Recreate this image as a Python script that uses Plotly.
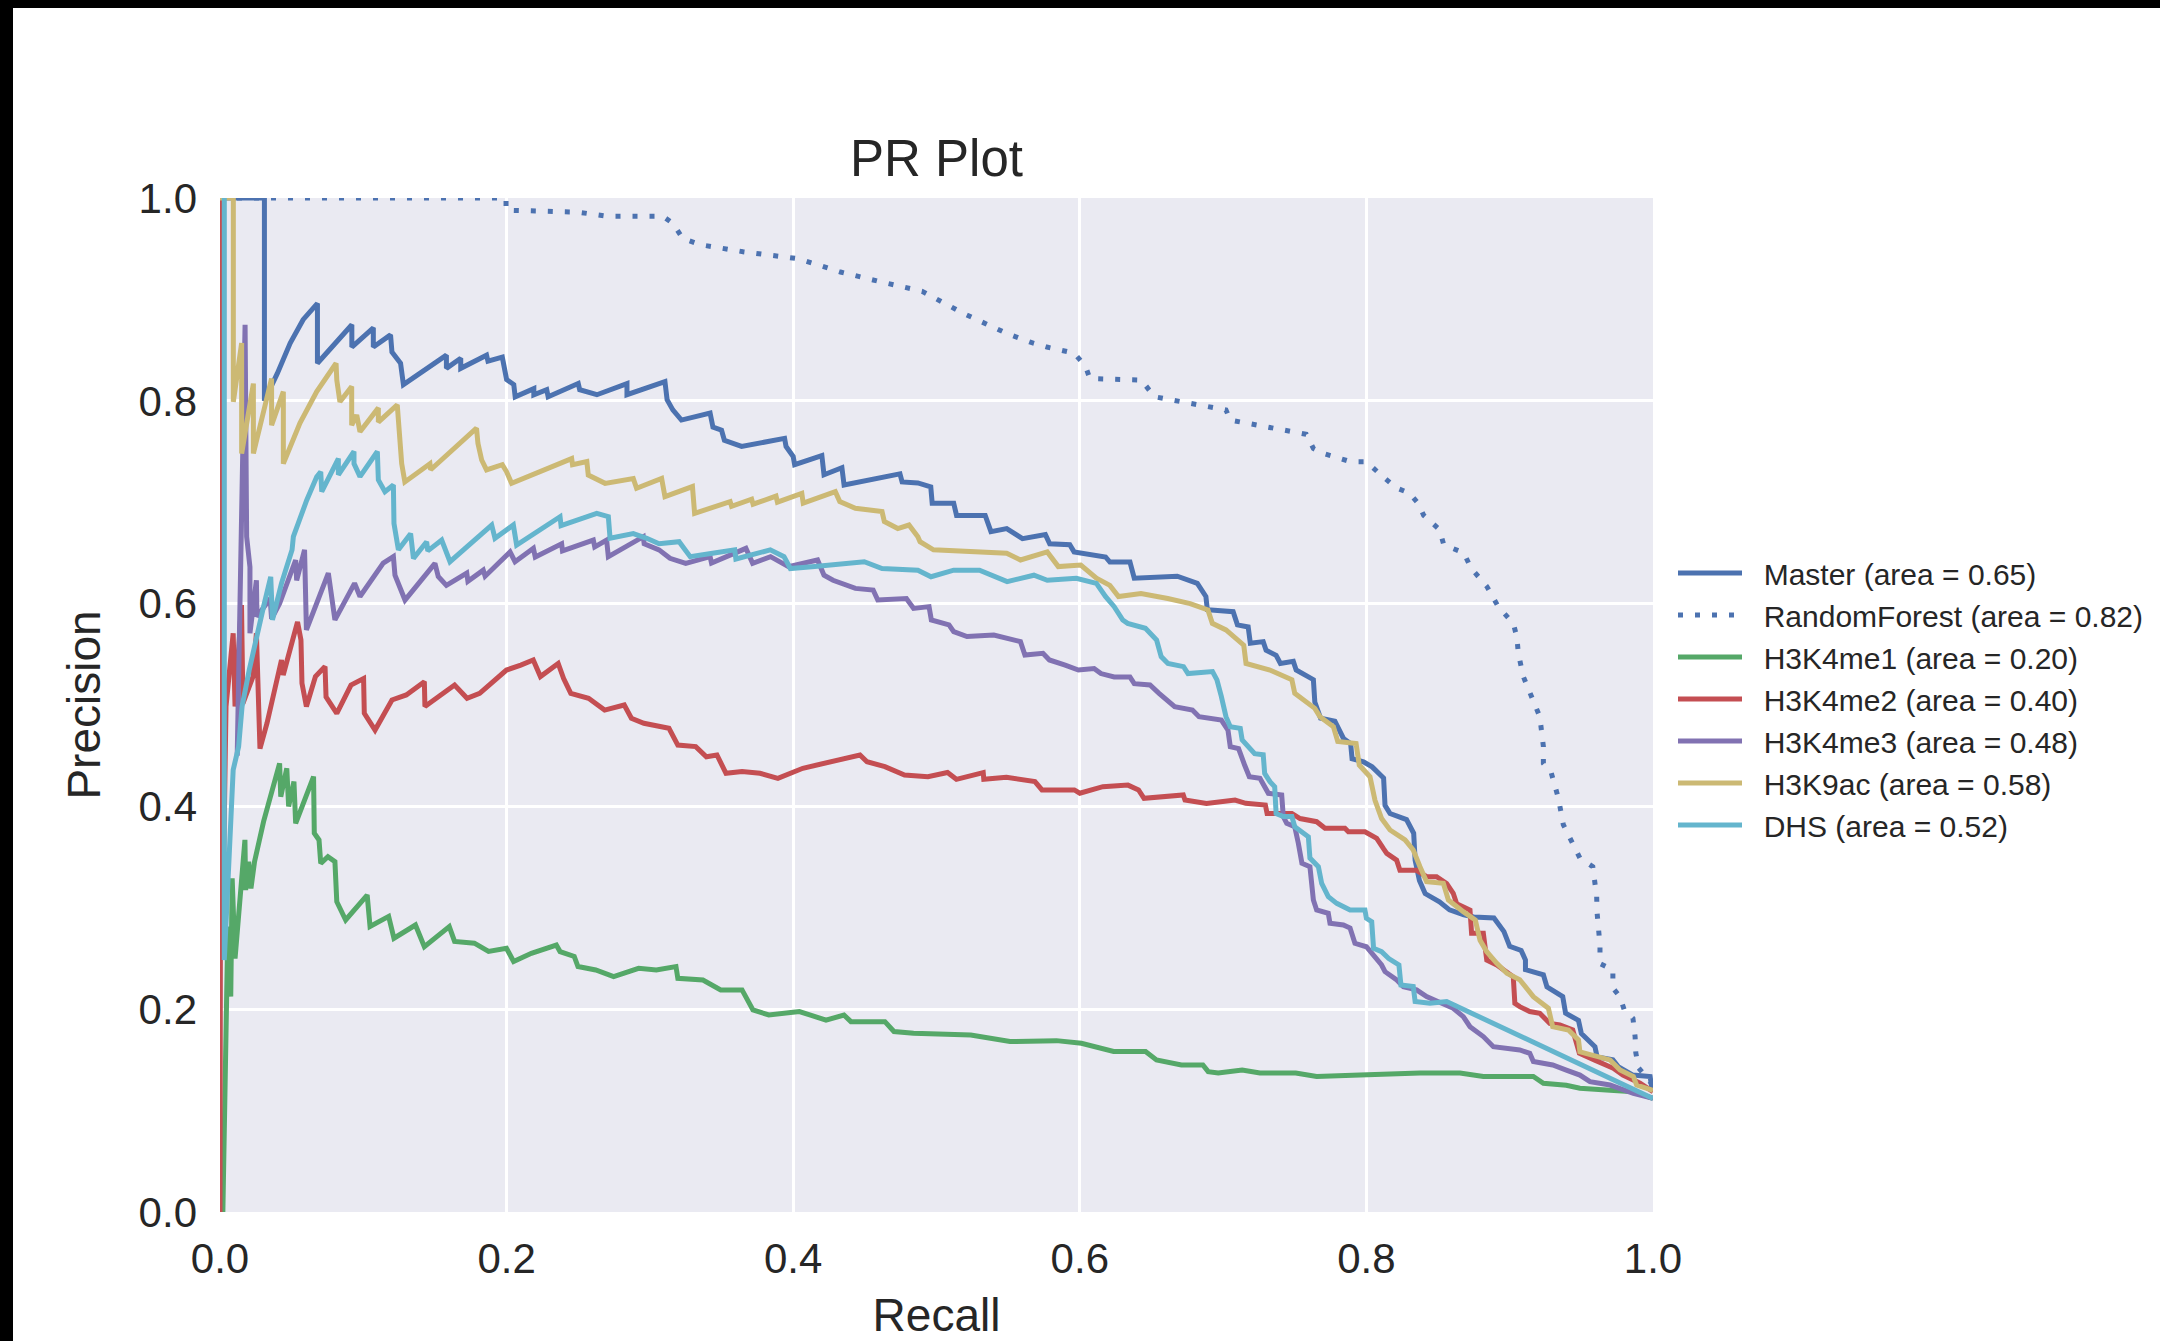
import plotly.graph_objects as go

# ---------------- data ----------------
series_names = ["Master", "RandomForest", "H3K4me1", "H3K4me2", "H3K4me3", "H3K9ac", "DHS"]
areas = [0.65, 0.82, 0.20, 0.40, 0.48, 0.58, 0.52]
colors = ["#4C72B0", "#4C72B0", "#55A868", "#C44E52", "#8172B2", "#CCB974", "#64B5CD"]

master_recall = [0.000, 0.031, 0.031, 0.040, 0.049, 0.058, 0.068, 0.068, 0.092, 0.092, 0.107, 0.107, 0.119, 0.120, 0.126, 0.128, 0.158, 0.158, 0.168, 0.168, 0.186, 0.187, 0.197, 0.200, 0.205, 0.206, 0.219, 0.219, 0.228, 0.229, 0.250, 0.251, 0.263, 0.284, 0.284, 0.3105, 0.312, 0.316, 0.322, 0.342, 0.344, 0.350, 0.352, 0.364, 0.394, 0.395, 0.400, 0.401, 0.420, 0.4215, 0.434, 0.4355, 0.4745, 0.476, 0.487, 0.496, 0.497, 0.512, 0.514, 0.534, 0.538, 0.549, 0.560, 0.576, 0.579, 0.593, 0.596, 0.618, 0.621, 0.635, 0.638, 0.668, 0.682, 0.688, 0.689, 0.707, 0.710, 0.7175, 0.719, 0.728, 0.730, 0.737, 0.740, 0.749, 0.751, 0.763, 0.764, 0.768, 0.778, 0.784, 0.789, 0.790, 0.798, 0.804, 0.812, 0.813, 0.8165, 0.828, 0.833, 0.834, 0.837, 0.841, 0.851, 0.858, 0.868, 0.875, 0.889, 0.896, 0.900, 0.908, 0.911, 0.911, 0.9235, 0.926, 0.937, 0.939, 0.948, 0.950, 0.9595, 0.961, 0.972, 0.976, 0.986, 0.998, 0.999, 1.000]
master_precision = [1.000, 1.000, 0.800, 0.827, 0.857, 0.880, 0.896, 0.837, 0.875, 0.853, 0.872, 0.853, 0.865, 0.848, 0.837, 0.816, 0.845, 0.832, 0.842, 0.832, 0.845, 0.839, 0.843, 0.821, 0.816, 0.804, 0.812, 0.806, 0.811, 0.804, 0.817, 0.811, 0.806, 0.817, 0.806, 0.819, 0.801, 0.791, 0.781, 0.788, 0.774, 0.771, 0.761, 0.755, 0.763, 0.755, 0.745, 0.737, 0.746, 0.727, 0.734, 0.717, 0.728, 0.720, 0.719, 0.715, 0.699, 0.699, 0.687, 0.687, 0.671, 0.674, 0.664, 0.668, 0.659, 0.658, 0.651, 0.646, 0.641, 0.641, 0.625, 0.627, 0.620, 0.607, 0.594, 0.592, 0.579, 0.577, 0.561, 0.5625, 0.554, 0.549, 0.541, 0.543, 0.5345, 0.525, 0.503, 0.487, 0.484, 0.467, 0.462, 0.447, 0.444, 0.439, 0.428, 0.401, 0.393, 0.387, 0.3735, 0.347, 0.327, 0.314, 0.306, 0.298, 0.293, 0.291, 0.290, 0.2765, 0.262, 0.258, 0.2485, 0.239, 0.234, 0.222, 0.2125, 0.196, 0.189, 0.176, 0.163, 0.153, 0.150, 0.143, 0.135, 0.1335, 0.124, 0.122]

rf_recall = [0.000, 0.1996, 0.1996, 0.250, 0.270, 0.309, 0.316, 0.323, 0.335, 0.365, 0.404, 0.433, 0.462, 0.490, 0.519, 0.549, 0.565, 0.577, 0.596, 0.604, 0.607, 0.643, 0.652, 0.702, 0.705, 0.758, 0.763, 0.770, 0.789, 0.800, 0.810, 0.821, 0.830, 0.836, 0.840, 0.851, 0.854, 0.868, 0.873, 0.884, 0.892, 0.9025, 0.905, 0.906, 0.9095, 0.9165, 0.921, 0.9235, 0.9235, 0.929, 0.934, 0.9374, 0.942, 0.949, 0.958, 0.9607, 0.961, 0.962, 0.963, 0.963, 0.972, 0.972, 0.977, 0.980, 0.986, 0.9875, 0.988, 0.990, 1.000]
rf_precision = [1.000, 1.000, 0.988, 0.986, 0.982, 0.982, 0.975, 0.960, 0.954, 0.947, 0.940, 0.927, 0.917, 0.908, 0.886, 0.8665, 0.858, 0.853, 0.847, 0.834, 0.822, 0.8205, 0.804, 0.791, 0.781, 0.767, 0.753, 0.748, 0.740, 0.740, 0.727, 0.714, 0.709, 0.699, 0.687, 0.673, 0.658, 0.650, 0.635, 0.617, 0.597, 0.5805, 0.567, 0.551, 0.528, 0.503, 0.4885, 0.459, 0.4425, 0.433, 0.408, 0.382, 0.3685, 0.349, 0.3405, 0.311, 0.295, 0.278, 0.263, 0.245, 0.239, 0.221, 0.212, 0.199, 0.191, 0.173, 0.157, 0.142, 0.125]

me1_recall = [0.000, 0.002, 0.0055, 0.0075, 0.0085, 0.0105, 0.0174, 0.0179, 0.020, 0.0216, 0.0241, 0.0304, 0.0416, 0.0424, 0.0466, 0.0479, 0.0516, 0.0528, 0.0653, 0.0658, 0.0691, 0.0703, 0.0753, 0.0802, 0.0815, 0.0877, 0.1027, 0.1047, 0.1177, 0.1214, 0.1364, 0.1426, 0.160, 0.1637, 0.1775, 0.1874, 0.1999, 0.2049, 0.2173, 0.2347, 0.2373, 0.2472, 0.2498, 0.2622, 0.2747, 0.2921, 0.3045, 0.3182, 0.3195, 0.337, 0.3494, 0.3643, 0.3719, 0.383, 0.4043, 0.4229, 0.4354, 0.4403, 0.464, 0.4703, 0.484, 0.5239, 0.5513, 0.5837, 0.6011, 0.6236, 0.6459, 0.6535, 0.6709, 0.6859, 0.6896, 0.6966, 0.7133, 0.7257, 0.7507, 0.7653, 0.7955, 0.8374, 0.8653, 0.8816, 0.9165, 0.9235, 0.9395, 0.949, 0.970, 0.9863, 1.000]
me1_precision = [0.000, 0.000, 0.2815, 0.2125, 0.329, 0.250, 0.367, 0.3175, 0.3455, 0.319, 0.3455, 0.385, 0.4425, 0.4095, 0.4376, 0.400, 0.4245, 0.3833, 0.4294, 0.3735, 0.3669, 0.3439, 0.3504, 0.3455, 0.306, 0.288, 0.3126, 0.2815, 0.2915, 0.270, 0.283, 0.2617, 0.2815, 0.2668, 0.2651, 0.2569, 0.2601, 0.247, 0.2551, 0.2633, 0.2568, 0.252, 0.2421, 0.2387, 0.2322, 0.2403, 0.2387, 0.242, 0.2305, 0.2288, 0.219, 0.219, 0.1992, 0.1943, 0.1977, 0.1893, 0.1943, 0.1877, 0.1877, 0.178, 0.1764, 0.1745, 0.1681, 0.169, 0.1664, 0.1583, 0.1583, 0.150, 0.145, 0.145, 0.1384, 0.137, 0.140, 0.137, 0.137, 0.1336, 0.135, 0.137, 0.137, 0.1336, 0.1336, 0.127, 0.125, 0.122, 0.120, 0.1187, 0.112]

me2_recall = [0.000, 0.0005, 0.001, 0.0015, 0.0042, 0.0092, 0.0105, 0.015, 0.016, 0.023, 0.0254, 0.0279, 0.0328, 0.0429, 0.0441, 0.0541, 0.0565, 0.0572, 0.0603, 0.0666, 0.0733, 0.074, 0.0815, 0.0914, 0.1002, 0.1007, 0.1082, 0.120, 0.130, 0.1426, 0.143, 0.1637, 0.1724, 0.1812, 0.1999, 0.2099, 0.2186, 0.2236, 0.236, 0.2398, 0.2448, 0.2572, 0.2684, 0.2821, 0.2871, 0.2958, 0.3133, 0.3195, 0.332, 0.3394, 0.3468, 0.3531, 0.3643, 0.3768, 0.3893, 0.4067, 0.4267, 0.4466, 0.4515, 0.464, 0.4777, 0.494, 0.5077, 0.5139, 0.5326, 0.533, 0.5488, 0.5687, 0.5736, 0.5962, 0.600, 0.6161, 0.6336, 0.641, 0.6448, 0.6635, 0.6722, 0.6734, 0.6884, 0.7083, 0.7158, 0.7295, 0.7307, 0.748, 0.7537, 0.7653, 0.7711, 0.785, 0.7874, 0.799, 0.8072, 0.8118, 0.8142, 0.8211, 0.8234, 0.835, 0.842, 0.849, 0.856, 0.8606, 0.863, 0.8723, 0.8734, 0.8816, 0.884, 0.891, 0.897, 0.9025, 0.9036, 0.907, 0.914, 0.921, 0.928, 0.935, 0.944, 0.9486, 0.959, 0.9723, 0.979, 0.991, 1.000]
me2_precision = [0.000, 1.000, 1.000, 0.250, 0.4985, 0.5707, 0.4985, 0.5986, 0.5017, 0.528, 0.5707, 0.457, 0.482, 0.5444, 0.5296, 0.582, 0.564, 0.5214, 0.4985, 0.528, 0.538, 0.508, 0.4918, 0.5197, 0.526, 0.4918, 0.4753, 0.505, 0.5099, 0.523, 0.4985, 0.5197, 0.5066, 0.5115, 0.5345, 0.5394, 0.5444, 0.528, 0.541, 0.526, 0.5115, 0.5066, 0.495, 0.500, 0.4869, 0.482, 0.477, 0.4605, 0.459, 0.449, 0.4507, 0.4326, 0.4343, 0.4326, 0.4277, 0.4376, 0.444, 0.4507, 0.444, 0.4392, 0.431, 0.4293, 0.4334, 0.4267, 0.4334, 0.4267, 0.4287, 0.4245, 0.4162, 0.4162, 0.413, 0.4195, 0.421, 0.4162, 0.408, 0.4095, 0.4113, 0.4063, 0.403, 0.4063, 0.403, 0.4014, 0.393, 0.393, 0.388, 0.3849, 0.3784, 0.3784, 0.375, 0.375, 0.3685, 0.3586, 0.3537, 0.347, 0.337, 0.337, 0.3307, 0.3307, 0.324, 0.3143, 0.304, 0.2978, 0.2748, 0.2748, 0.2485, 0.2436, 0.237, 0.232, 0.2058, 0.2025, 0.1977, 0.196, 0.186, 0.1844, 0.1795, 0.1565, 0.150, 0.1417, 0.135, 0.127, 0.1187]

me3_recall = [0.012, 0.0175, 0.0186, 0.0209, 0.0209, 0.0254, 0.0258, 0.035, 0.036, 0.0416, 0.0528, 0.0535, 0.059, 0.0603, 0.0756, 0.0802, 0.0939, 0.0977, 0.1139, 0.121, 0.1221, 0.1291, 0.150, 0.1523, 0.158, 0.1722, 0.173, 0.1837, 0.185, 0.2024, 0.2059, 0.2187, 0.220, 0.2384, 0.239, 0.2605, 0.2615, 0.2698, 0.271, 0.2954, 0.296, 0.3064, 0.314, 0.325, 0.342, 0.343, 0.367, 0.3717, 0.3842, 0.3967, 0.417, 0.4215, 0.4278, 0.4434, 0.4558, 0.459, 0.479, 0.484, 0.4948, 0.4964, 0.5087, 0.512, 0.5213, 0.540, 0.5586, 0.5617, 0.5743, 0.5788, 0.5898, 0.599, 0.610, 0.6147, 0.624, 0.635, 0.638, 0.649, 0.6553, 0.663, 0.6662, 0.6786, 0.6832, 0.6988, 0.7034, 0.705, 0.7108, 0.715, 0.7183, 0.7257, 0.7316, 0.7409, 0.742, 0.7444, 0.750, 0.7525, 0.755, 0.7606, 0.763, 0.7653, 0.7734, 0.7746, 0.7839, 0.7886, 0.792, 0.800, 0.8106, 0.813, 0.8212, 0.8258, 0.835, 0.842, 0.8537, 0.8606, 0.8676, 0.8723, 0.8816, 0.8886, 0.907, 0.914, 0.9165, 0.930, 0.9395, 0.949, 0.956, 0.970, 0.9863, 1.000]
me3_precision = [0.450, 0.875, 0.666, 0.636, 0.5707, 0.623, 0.587, 0.605, 0.585, 0.600, 0.643, 0.623, 0.653, 0.574, 0.630, 0.584, 0.620, 0.607, 0.640, 0.6463, 0.628, 0.6035, 0.6397, 0.6267, 0.618, 0.630, 0.622, 0.633, 0.627, 0.651, 0.6413, 0.6545, 0.646, 0.659, 0.652, 0.6627, 0.656, 0.6627, 0.6463, 0.666, 0.659, 0.653, 0.6447, 0.6397, 0.6463, 0.640, 0.6545, 0.6397, 0.6463, 0.6365, 0.643, 0.628, 0.623, 0.615, 0.6134, 0.6036, 0.605, 0.5953, 0.597, 0.5838, 0.579, 0.5723, 0.5675, 0.569, 0.5625, 0.5493, 0.551, 0.5444, 0.5394, 0.5345, 0.536, 0.531, 0.5276, 0.5276, 0.521, 0.5197, 0.5115, 0.5016, 0.4983, 0.495, 0.4885, 0.4852, 0.4753, 0.4589, 0.457, 0.4408, 0.4293, 0.4277, 0.4129, 0.4112, 0.390, 0.3833, 0.380, 0.3636, 0.3439, 0.3405, 0.3077, 0.2978, 0.2946, 0.2847, 0.283, 0.280, 0.265, 0.2616, 0.2436, 0.237, 0.2288, 0.2222, 0.219, 0.2124, 0.2058, 0.2009, 0.1927, 0.1828, 0.173, 0.163, 0.1598, 0.1565, 0.1484, 0.145, 0.140, 0.135, 0.1285, 0.1252, 0.117, 0.112]

k9ac_recall = [0.000, 0.0093, 0.0093, 0.0151, 0.0151, 0.0233, 0.0233, 0.036, 0.036, 0.0442, 0.0442, 0.0558, 0.0675, 0.081, 0.0815, 0.0837, 0.0919, 0.0919, 0.0954, 0.0977, 0.1105, 0.1105, 0.1237, 0.125, 0.1268, 0.129, 0.1465, 0.147, 0.179, 0.180, 0.1826, 0.186, 0.197, 0.200, 0.2035, 0.2454, 0.246, 0.256, 0.257, 0.2687, 0.2884, 0.2907, 0.3082, 0.3105, 0.3297, 0.3312, 0.356, 0.357, 0.371, 0.372, 0.388, 0.389, 0.406, 0.407, 0.4294, 0.4325, 0.4434, 0.462, 0.4636, 0.473, 0.4808, 0.487, 0.4885, 0.4979, 0.549, 0.5586, 0.5773, 0.585, 0.6007, 0.6116, 0.621, 0.627, 0.6427, 0.6614, 0.677, 0.6894, 0.6925, 0.702, 0.7144, 0.716, 0.7327, 0.748, 0.750, 0.764, 0.7676, 0.777, 0.780, 0.7928, 0.795, 0.8025, 0.806, 0.8106, 0.8165, 0.827, 0.8327, 0.8374, 0.842, 0.8537, 0.8572, 0.8676, 0.876, 0.8793, 0.884, 0.891, 0.898, 0.907, 0.9165, 0.927, 0.930, 0.941, 0.948, 0.949, 0.970, 0.977, 0.9863, 0.9886, 1.000]
k9ac_precision = [1.000, 1.000, 0.799, 0.857, 0.748, 0.817, 0.748, 0.822, 0.776, 0.809, 0.738, 0.778, 0.809, 0.837, 0.8205, 0.799, 0.814, 0.776, 0.786, 0.7695, 0.793, 0.779, 0.796, 0.771, 0.738, 0.720, 0.738, 0.732, 0.773, 0.758, 0.7416, 0.7318, 0.737, 0.730, 0.7186, 0.743, 0.737, 0.740, 0.7268, 0.7186, 0.7234, 0.7137, 0.7234, 0.7055, 0.7154, 0.689, 0.7006, 0.696, 0.703, 0.698, 0.706, 0.700, 0.7087, 0.699, 0.7104, 0.7006, 0.694, 0.6907, 0.681, 0.674, 0.6775, 0.666, 0.661, 0.653, 0.6496, 0.643, 0.651, 0.6365, 0.638, 0.625, 0.618, 0.607, 0.610, 0.605, 0.600, 0.5937, 0.5805, 0.574, 0.559, 0.541, 0.5345, 0.525, 0.5115, 0.4967, 0.4885, 0.4786, 0.464, 0.462, 0.4408, 0.4293, 0.406, 0.388, 0.3767, 0.3669, 0.357, 0.3405, 0.3258, 0.3242, 0.3077, 0.2962, 0.288, 0.268, 0.2567, 0.2453, 0.2354, 0.229, 0.2124, 0.2009, 0.1828, 0.1795, 0.1696, 0.158, 0.150, 0.140, 0.1335, 0.1252, 0.120]

dhs_recall = [0.002, 0.003, 0.003, 0.0067, 0.0092, 0.013, 0.0154, 0.0204, 0.0254, 0.0304, 0.0354, 0.0366, 0.0429, 0.0503, 0.0512, 0.0605, 0.0675, 0.0703, 0.071, 0.0826, 0.0826, 0.0935, 0.0935, 0.0977, 0.1098, 0.1105, 0.1151, 0.121, 0.1214, 0.1245, 0.133, 0.135, 0.1442, 0.145, 0.1547, 0.1605, 0.1896, 0.1919, 0.2047, 0.207, 0.2373, 0.238, 0.2629, 0.271, 0.2722, 0.2884, 0.2978, 0.3064, 0.3204, 0.3281, 0.3437, 0.3592, 0.360, 0.384, 0.3936, 0.398, 0.415, 0.4496, 0.462, 0.487, 0.4962, 0.512, 0.530, 0.5493, 0.568, 0.5773, 0.5976, 0.6116, 0.6179, 0.624, 0.630, 0.6334, 0.6458, 0.6536, 0.6568, 0.6615, 0.6724, 0.6755, 0.6926, 0.6957, 0.6988, 0.702, 0.705, 0.712, 0.7133, 0.722, 0.728, 0.729, 0.7327, 0.736, 0.737, 0.742, 0.748, 0.750, 0.7595, 0.7606, 0.7665, 0.7688, 0.7734, 0.7793, 0.7886, 0.799, 0.800, 0.8037, 0.805, 0.8106, 0.8156, 0.8227, 0.8241, 0.8327, 0.834, 0.8444, 0.856, 1.000]
dhs_precision = [1.000, 1.000, 0.2485, 0.3767, 0.436, 0.459, 0.4985, 0.5345, 0.5674, 0.597, 0.6265, 0.584, 0.620, 0.653, 0.666, 0.702, 0.725, 0.730, 0.7104, 0.743, 0.727, 0.750, 0.738, 0.7252, 0.750, 0.722, 0.7104, 0.717, 0.679, 0.653, 0.669, 0.6446, 0.661, 0.652, 0.6627, 0.6413, 0.6775, 0.6644, 0.6775, 0.6578, 0.6857, 0.677, 0.689, 0.6857, 0.6644, 0.669, 0.6644, 0.659, 0.661, 0.6463, 0.6496, 0.653, 0.644, 0.653, 0.6463, 0.6346, 0.6365, 0.6413, 0.6346, 0.633, 0.6265, 0.633, 0.633, 0.6217, 0.628, 0.623, 0.625, 0.620, 0.607, 0.597, 0.5838, 0.5805, 0.5756, 0.564, 0.5477, 0.541, 0.5378, 0.531, 0.533, 0.5247, 0.5082, 0.4885, 0.4786, 0.477, 0.4655, 0.452, 0.451, 0.4326, 0.4244, 0.4194, 0.393, 0.390, 0.390, 0.380, 0.370, 0.349, 0.3405, 0.324, 0.311, 0.3044, 0.2978, 0.2978, 0.2896, 0.2863, 0.260, 0.2567, 0.250, 0.2436, 0.2239, 0.2224, 0.2076, 0.2059, 0.2076, 0.112]

x_tick_values = [0.0, 0.2, 0.4, 0.6, 0.8, 1.0]
y_tick_values = [0.0, 0.2, 0.4, 0.6, 0.8, 1.0]
x_tick_labels = ["0.0", "0.2", "0.4", "0.6", "0.8", "1.0"]
y_tick_labels = ["0.0", "0.2", "0.4", "0.6", "0.8", "1.0"]

recalls = [master_recall, rf_recall, me1_recall, me2_recall, me3_recall, k9ac_recall, dhs_recall]
precisions = [master_precision, rf_precision, me1_precision, me2_precision, me3_precision, k9ac_precision, dhs_precision]
dashes = ["solid", "5px,12px", "solid", "solid", "solid", "solid", "solid"]

# ---------------- figure ----------------
W, H = 2160, 1341
ML, MR, MT, MB = 220, 2160 - 1653, 198, 1341 - 1212
FONT = "Liberation Sans, Arial, Helvetica, sans-serif"
TXT = "#262626"
GAP = "\u00a0\u00a0"  # gap between legend line sample and its text

fig = go.Figure()
for name, area, col, rx, py, dsh in zip(series_names, areas, colors, recalls, precisions, dashes):
    fig.add_trace(go.Scatter(
        x=rx, y=py, mode="lines",
        name=f"{GAP}{name} (area = {area:.2f})",
        line=dict(color=col, width=5, dash=dsh),
        hoverinfo="skip",
    ))

fig.update_layout(
    width=W, height=H,
    margin=dict(l=ML, r=MR, t=MT, b=MB, pad=0, autoexpand=False),
    paper_bgcolor="white",
    plot_bgcolor="#EAEAF2",
    font=dict(family=FONT, color=TXT),
    title=dict(text="PR Plot", x=0.5, xref="paper", xanchor="center",
               y=1 - 158 / H, yref="container", yanchor="middle",
               font=dict(size=51, color=TXT, family=FONT), automargin=False),
    showlegend=True,
    legend=dict(x=(1673 - ML) / (W - ML - MR), xanchor="left",
                y=(1212 - 547) / (1212 - 198), yanchor="top",
                font=dict(size=30, color=TXT, family=FONT),
                bgcolor="rgba(0,0,0,0)", borderwidth=0,
                itemwidth=64, tracegroupgap=0),
)

fig.update_xaxes(range=[0, 1], tickvals=x_tick_values, ticktext=x_tick_labels,
                 automargin=False,
                 showgrid=True, gridcolor="white", gridwidth=3,
                 zeroline=False, showline=False, ticks="",
                 tickfont=dict(size=42, color=TXT, family=FONT),
                 ticklabelstandoff=18,
                 title=dict(text="Recall", font=dict(size=46, color=TXT, family=FONT), standoff=31))
fig.update_yaxes(range=[0, 1], tickvals=y_tick_values, ticktext=y_tick_labels,
                 automargin=False,
                 showgrid=True, gridcolor="white", gridwidth=3,
                 zeroline=False, showline=False, ticks="",
                 tickfont=dict(size=42, color=TXT, family=FONT),
                 ticklabelstandoff=22,
                 title=dict(text="Precision", font=dict(size=46, color=TXT, family=FONT), standoff=23))

# black frame strips along the top and left edges of the picture
fig.add_shape(type="rect", xref="paper", yref="paper", x0=-0.3, x1=1.5,
              ysizemode="pixel", yanchor=1, y0=MT + 2, y1=MT - 8,
              fillcolor="black", line=dict(width=0), layer="above")
fig.add_shape(type="rect", yref="paper", xref="paper", y0=-0.3, y1=1.3,
              xsizemode="pixel", xanchor=0, x0=-ML - 2, x1=-ML + 13,
              fillcolor="black", line=dict(width=0), layer="above")

fig.write_html("out.html")
